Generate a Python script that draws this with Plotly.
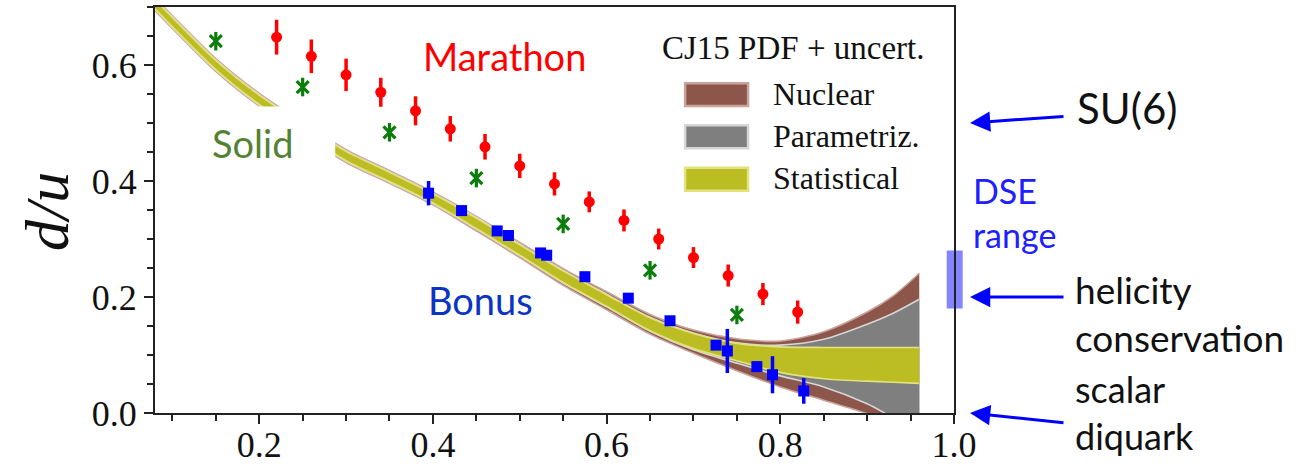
import plotly.graph_objects as go

# ---------------- data ----------------
# CJ15 d/u uncertainty bands (lower / upper edges)
cj_x = [0.08, 0.10, 0.15, 0.20, 0.25, 0.30, 0.35, 0.40, 0.45, 0.50,
        0.55, 0.60, 0.65, 0.70, 0.75, 0.80, 0.85, 0.90, 0.93, 0.96]
stat_hi = [0.713, 0.682, 0.608, 0.548, 0.498, 0.451, 0.415, 0.378, 0.336, 0.290,
           0.245, 0.204, 0.164, 0.137, 0.120, 0.114, 0.113, 0.113, 0.113, 0.113]
stat_lo = [0.697, 0.666, 0.592, 0.532, 0.482, 0.435, 0.399, 0.362, 0.318, 0.272,
           0.225, 0.184, 0.142, 0.111, 0.090, 0.070, 0.059, 0.055, 0.053, 0.051]
par_hi = [0.714, 0.683, 0.609, 0.549, 0.499, 0.452, 0.416, 0.379, 0.337, 0.291,
          0.246, 0.205, 0.165, 0.138, 0.121, 0.117, 0.127, 0.153, 0.172, 0.196]
par_lo = [0.696, 0.665, 0.591, 0.531, 0.481, 0.434, 0.398, 0.361, 0.317, 0.271,
          0.224, 0.183, 0.141, 0.109, 0.086, 0.064, 0.045, 0.016, -0.008, -0.030]
nuc_hi = [0.716, 0.685, 0.611, 0.551, 0.501, 0.454, 0.418, 0.381, 0.339, 0.294,
          0.249, 0.209, 0.170, 0.143, 0.128, 0.124, 0.140, 0.174, 0.202, 0.241]
nuc_lo = [0.694, 0.663, 0.589, 0.529, 0.479, 0.432, 0.396, 0.359, 0.314, 0.268,
          0.220, 0.178, 0.136, 0.103, 0.073, 0.045, 0.022, -0.001, -0.020, -0.040]

# MARATHON projected points
marathon_x = [0.22, 0.26, 0.30, 0.34, 0.38, 0.42, 0.46, 0.50,
              0.54, 0.58, 0.62, 0.66, 0.70, 0.74, 0.78, 0.82]
marathon_y = [0.648, 0.615, 0.583, 0.553, 0.521, 0.490, 0.459, 0.426,
              0.395, 0.364, 0.332, 0.300, 0.268, 0.237, 0.205, 0.174]
marathon_err = [0.030, 0.029, 0.028, 0.025, 0.025, 0.022, 0.022, 0.021,
                0.020, 0.018, 0.019, 0.018, 0.018, 0.019, 0.019, 0.020]

# SoLID projected points
solid_x = [0.15, 0.25, 0.35, 0.45, 0.55, 0.65, 0.75]
solid_y = [0.641, 0.562, 0.484, 0.405, 0.326, 0.246, 0.169]
solid_err = [0.016, 0.016, 0.016, 0.016, 0.016, 0.016, 0.016]

# BoNuS projected points
bonus_x = [0.395, 0.433, 0.474, 0.487, 0.524, 0.531, 0.575,
           0.625, 0.673, 0.726, 0.739, 0.773, 0.791, 0.827]
bonus_y = [0.379, 0.349, 0.314, 0.306, 0.276, 0.272, 0.235,
           0.198, 0.159, 0.117, 0.107, 0.080, 0.066, 0.038]
bonus_err = [0.021, 0.005, 0.005, 0.005, 0.005, 0.005, 0.005,
             0.005, 0.005, 0.005, 0.038, 0.005, 0.032, 0.022]

# theory limits at x -> 1
limit_values = [0.5, 0.2, 0.0]
dse_range = [0.18, 0.28]

x_ticks = [0.2, 0.4, 0.6, 0.8, 1.0]
x_ticktext = ["0.2", "0.4", "0.6", "0.8", "1.0"]
y_ticks = [0.0, 0.2, 0.4, 0.6]
y_ticktext = ["0.0", "0.2", "0.4", "0.6"]

X_RANGE = [0.08, 1.0]
Y_RANGE = [0.0, 0.7]

# ---------------- styling ----------------
SERIF = "Liberation Serif"
SANS = "Lato"
AX = "#222222"

band_styles = [
    ("Nuclear", nuc_lo, nuc_hi, "#8c564b", "#c9a29a"),
    ("Parametriz.", par_lo, par_hi, "#7f7f7f", "#d6d6d6"),
    ("Statistical", stat_lo, stat_hi, "#bcbd22", "#e2e27e"),
]

fig = go.Figure()

for name, lo, hi, fill, edge in band_styles:
    fig.add_trace(go.Scatter(
        x=cj_x, y=lo, mode="lines",
        line=dict(color=edge, width=1.6, shape="spline", smoothing=0.8),
        hoverinfo="skip", showlegend=False))
    fig.add_trace(go.Scatter(
        x=cj_x, y=hi, mode="lines", fill="tonexty", fillcolor=fill,
        line=dict(color=edge, width=1.6, shape="spline", smoothing=0.8),
        name=name, hoverinfo="skip", showlegend=False))

fig.add_trace(go.Scatter(
    x=marathon_x, y=marathon_y, mode="markers", name="Marathon",
    marker=dict(symbol="circle", size=11, color="#ff0000"),
    error_y=dict(type="data", array=marathon_err, color="#ff0000",
                 thickness=3.5, width=0),
    showlegend=False))

fig.add_trace(go.Scatter(
    x=solid_x, y=solid_y, mode="markers", name="Solid",
    marker=dict(symbol="x-thin-open", size=12, color="#0a7d0a",
                line=dict(color="#0a7d0a", width=3.2)),
    error_y=dict(type="data", array=solid_err, color="#0a7d0a",
                 thickness=3.2, width=0),
    showlegend=False))

fig.add_trace(go.Scatter(
    x=bonus_x, y=bonus_y, mode="markers", name="Bonus",
    marker=dict(symbol="square", size=11, color="#0000ff"),
    error_y=dict(type="data", array=bonus_err, color="#0000ff",
                 thickness=3.5, width=0),
    showlegend=False))

# plot-area pixel geometry
W, H = 1312, 466
ML, MR, MT, MB = 155, 358, 7, 53
PW = W - ML - MR
PH = H - MT - MB


def px_to_paper_x(px):
    return (px - ML) / PW


def py_to_paper_y(py):
    return (H - MB - py) / PH


shapes = []
# white label box over the band behind "Solid"
shapes.append(dict(type="rect", xref="x", yref="y", x0=0.132, x1=0.2875,
                   y0=0.41, y1=0.5285, fillcolor="white", line=dict(width=0),
                   layer="above"))

# DSE range bar at x = 1
shapes.append(dict(type="rect", xref="paper", yref="paper",
                   x0=px_to_paper_x(946.7), x1=px_to_paper_x(962.7),
                   y0=dse_range[0] / Y_RANGE[1], y1=dse_range[1] / Y_RANGE[1],
                   fillcolor="rgba(0,0,255,0.48)", line=dict(width=0),
                   layer="below"))

# legend swatches
legend_rows = [(0.5684, 0.5293), (0.4962, 0.4566), (0.4228, 0.3831)]
for (name, lo, hi, fill, edge), (y1, y0) in zip(band_styles, legend_rows):
    shapes.append(dict(type="rect", xref="x", yref="y",
                       x0=0.6904, x1=0.7629, y0=y0, y1=y1,
                       fillcolor=fill, line=dict(color=edge, width=2.5),
                       layer="above"))

annotations = []
# legend text
annotations.append(dict(text="CJ15 PDF + uncert.", xref="x", yref="y",
                        x=0.8147, y=0.6297, showarrow=False,
                        xanchor="center", yanchor="middle",
                        font=dict(family=SERIF, size=33, color="#111")))
for (name, *_), yc in zip(band_styles, [0.5498, 0.478, 0.4045]):
    annotations.append(dict(text=name, xref="x", yref="y", x=0.7894, y=yc,
                            showarrow=False, xanchor="left", yanchor="middle",
                            font=dict(family=SERIF, size=32, color="#111")))

# experiment labels
annotations.append(dict(text="Marathon", xref="x", yref="y", x=0.482, y=0.615,
                        showarrow=False, xanchor="center", yanchor="middle",
                        font=dict(family=SANS, size=38, color="#ff0000")))
annotations.append(dict(text="Solid", xref="x", yref="y", x=0.1925, y=0.4655,
                        showarrow=False, xanchor="center", yanchor="middle",
                        font=dict(family=SANS, size=38, color="#548235")))
annotations.append(dict(text="Bonus", xref="x", yref="y", x=0.4544, y=0.1955,
                        showarrow=False, xanchor="center", yanchor="middle",
                        font=dict(family=SANS, size=38, color="#0a35c4")))

# y-axis title
annotations.append(dict(text="d/u", xref="paper", yref="paper",
                        x=px_to_paper_x(47), y=py_to_paper_y(212),
                        textangle=-90, showarrow=False,
                        xanchor="center", yanchor="middle",
                        font=dict(family=SERIF, size=62, color="#111",
                                  style="italic")))

# arrows to the x = 1 limits
arrow_tail_dy = [-6.7, 0.0, 10.0]
for val, dy in zip(limit_values, arrow_tail_dy):
    annotations.append(dict(text="", xref="paper", yref="paper",
                            x=px_to_paper_x(970), y=val / Y_RANGE[1],
                            ax=95, ay=dy, showarrow=True, arrowhead=2,
                            arrowsize=1.35, arrowwidth=3, arrowcolor="#0000ff",
                            standoff=0))

# right-hand labels: (text, left px, centre py, size, colour)
side_labels = [
    ("SU(6)", 1075, 108, 42, "#111"),
    ("DSE<br>range", 971, 212, 34, "#2020ff"),
    ("helicity<br>conservation", 1073, 313, 37, "#111"),
    ("scalar<br>diquark", 1073, 412, 36, "#111"),
]
for text, px, py, size, color in side_labels:
    annotations.append(dict(text=text, xref="paper", yref="paper",
                            x=px_to_paper_x(px), y=py_to_paper_y(py),
                            showarrow=False, xanchor="left", yanchor="middle",
                            align="left",
                            font=dict(family=SANS, size=size, color=color)))

axis_common = dict(showline=True, mirror=True, linecolor=AX, linewidth=2,
                   ticks="outside", ticklen=9, tickwidth=2, tickcolor=AX,
                   showgrid=False, zeroline=False, automargin=False,
                   tickfont=dict(family=SERIF, size=36, color="#111"))

fig.update_layout(
    width=W, height=H,
    margin=dict(l=ML, r=MR, t=MT, b=MB, pad=0, autoexpand=False),
    paper_bgcolor="white", plot_bgcolor="white",
    showlegend=False,
    xaxis=dict(range=X_RANGE, tickmode="array", tickvals=x_ticks,
               ticktext=x_ticktext, ticklabelstandoff=-10,
               minor=dict(tick0=0, dtick=0.05, ticks="outside", ticklen=6,
                          tickwidth=1.5, tickcolor=AX),
               **axis_common),
    yaxis=dict(range=Y_RANGE, tickmode="array", tickvals=y_ticks,
               ticktext=y_ticktext,
               minor=dict(tick0=0, dtick=0.05, ticks="outside", ticklen=6,
                          tickwidth=1.5, tickcolor=AX),
               **axis_common),
    shapes=shapes,
    annotations=annotations,
)

fig.write_html("out.html")
